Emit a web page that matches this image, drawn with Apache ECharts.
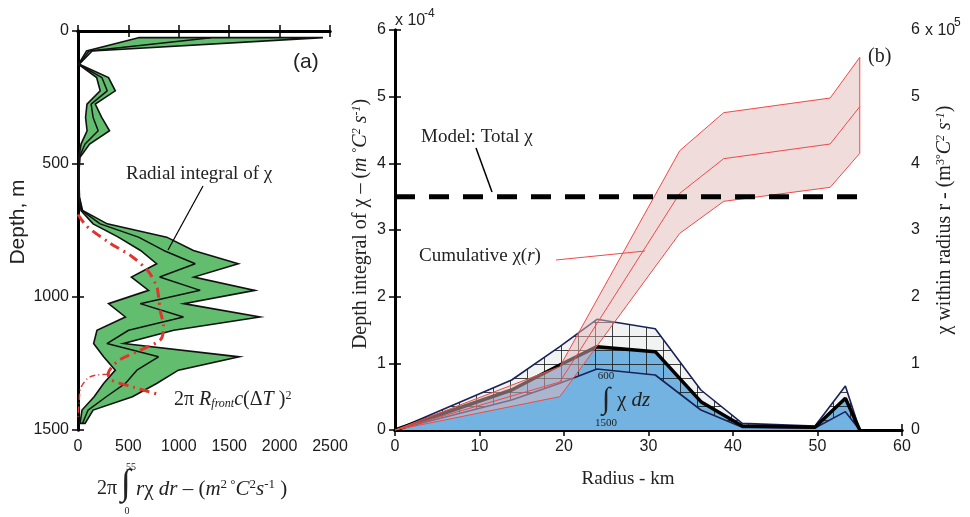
<!DOCTYPE html>
<html>
<head>
<meta charset="utf-8">
<script src="https://cdn.jsdelivr.net/npm/echarts@6/dist/echarts.min.js"></script>
<style>
html, body { margin: 0; padding: 0; background: #fff; }
#chart { width: 970px; height: 517px; }
</style>
</head>
<body>
<div id="chart"></div>
<script>
// ---- panel (a): radial integral of chi vs depth ----
var depthM = [25, 75, 125, 175, 225, 275, 325, 375, 425, 475, 525, 575, 625, 675, 725,
  775, 825, 875, 925, 975, 1025, 1075, 1125, 1175, 1225, 1275, 1325, 1375, 1425, 1475];
var radialLow = [600, 85, 5, 185, 220, 89, 75, 90, 30, 8, 5, 5, 8, 30, 150,
  400, 620, 780, 530, 700, 303, 470, 188, 155, 254, 370, 254, 160, 40, 20];
var radialMid = [1320, 110, 8, 237, 290, 130, 150, 200, 70, 12, 8, 8, 12, 40, 220,
  600, 850, 1163, 810, 1212, 617, 1046, 502, 287, 799, 584, 470, 280, 100, 45];
var radialHigh = [2430, 140, 12, 303, 370, 171, 235, 313, 115, 20, 10, 10, 15, 45, 290,
  880, 1145, 1590, 1150, 1755, 1050, 1805, 950, 452, 1600, 996, 780, 540, 150, 70];

// 2 pi R_front c (dT)^2
var frontDepth = [690, 735, 798, 848, 905, 960, 1000, 1050, 1110, 1160, 1200, 1240, 1290, 1312, 1340, 1368];
var frontValue = [0, 90, 320, 535, 700, 780, 800, 815, 848, 820, 617, 400, 300, 330, 560, 815];
var frontTailDepth = [1290, 1300, 1340, 1400, 1460];
var frontTailValue = [300, 120, 30, 10, 0];

// ---- panel (b): depth integral of chi vs radius ----
var radiusKm = [0, 13.8, 19.5, 23.9, 30.8, 36.2, 41.1, 49.7, 53.3, 55];
var chiDzLow = [0, 0.45, 0.7, 0.915, 0.825, 0.3, 0.04, 0.03, 0.275, 0];
var chiDzMid = [0, 0.6, 0.975, 1.25, 1.175, 0.425, 0.06, 0.04, 0.475, 0];
var chiDzHigh = [0, 0.75, 1.25, 1.66, 1.52, 0.6, 0.1, 0.06, 0.66, 0];

// cumulative chi within radius r (x 10^5)
var cumKm = [0, 19.5, 33.7, 38.9, 51.5, 55];
var cumLow = [0, 0.5, 2.95, 3.43, 3.64, 4.15];
var cumMid = [0, 0.72, 3.55, 4.07, 4.29, 4.85];
var cumHigh = [0, 0.95, 4.19, 4.76, 4.98, 5.59];

var modelTotal = 3.5;
var modelKm = [0, 55];

var sans = "'Liberation Sans', Arial, sans-serif";
var serif = "'Liberation Serif', 'Times New Roman', serif";

function pairs(xs, ys) {
  return xs.map(function(x, i) { return [x, ys[i]]; });
}
function band(xs, lo, hi, swap) {
  var a = xs.map(function(x, i) { return swap ? [lo[i], x] : [x, lo[i]]; });
  var b = xs.map(function(x, i) { return swap ? [hi[i], x] : [x, hi[i]]; }).reverse();
  return a.concat(b);
}
function polygonItem(points, style) {
  return function(params, api) {
    return {
      type: 'polygon',
      shape: { points: points.map(function(p) { return api.coord(p); }) },
      style: style
    };
  };
}

// grid hatch for the error band in (b)
var hatch = document.createElement('canvas');
hatch.width = 17; hatch.height = 14;
var hctx = hatch.getContext('2d');
hctx.strokeStyle = 'rgba(30,30,30,0.85)';
hctx.lineWidth = 1;
hctx.beginPath();
hctx.moveTo(0.5, 0); hctx.lineTo(0.5, 14);
hctx.moveTo(0, 0.5); hctx.lineTo(17, 0.5);
hctx.stroke();

function rich(size) {
  return {
    n: { fontFamily: serif, fontSize: size, fill: '#222' },
    i: { fontFamily: serif, fontSize: size, fontStyle: 'italic', fill: '#222' },
    sup: { fontFamily: serif, fontSize: Math.round(size * 0.6), fill: '#222', verticalAlign: 'top' },
    isup: { fontFamily: serif, fontSize: Math.round(size * 0.6), fontStyle: 'italic', fill: '#222', verticalAlign: 'top' },
    sub: { fontFamily: serif, fontSize: Math.round(size * 0.6), fontStyle: 'italic', fill: '#222', verticalAlign: 'bottom' }
  };
}
function txt(x, y, text, opt) {
  opt = opt || {};
  return {
    type: 'text', x: x, y: y, rotation: opt.rotation || 0, z: 100,
    style: {
      text: text, fill: '#222',
      font: opt.font || ('19px ' + serif),
      align: opt.align || 'left', verticalAlign: opt.va || 'middle',
      rich: opt.rich
    }
  };
}
function seg(x1, y1, x2, y2, color, w) {
  return { type: 'line', z: 100, shape: { x1: x1, y1: y1, x2: x2, y2: y2 }, style: { stroke: color || '#000', lineWidth: w || 1.2 } };
}

var tickStyle = { inside: true, length: 6, lineStyle: { color: '#000', width: 1.5 } };
var lineAxis = { show: true, lineStyle: { color: '#000', width: 3 } };
var labelStyle = {
  color: '#1a1a1a', fontSize: 16, fontFamily: sans, margin: 9,
  formatter: function(v) { return String(v); }
};

function axis(gridIndex, pos, min, max, interval, showLabel, inverse) {
  return {
    type: 'value', gridIndex: gridIndex, position: pos, min: min, max: max, interval: interval,
    inverse: !!inverse, axisLine: lineAxis, axisTick: tickStyle, splitLine: { show: false },
    axisLabel: showLabel ? labelStyle : { show: false }
  };
}

var option = {
  animation: false,
  backgroundColor: '#fff',
  grid: [
    { left: 78, top: 31, width: 252, height: 399 },
    { left: 395, top: 30, width: 507, height: 400 }
  ],
  xAxis: [
    axis(0, 'bottom', 0, 2500, 500, true),
    axis(0, 'top', 0, 2500, 500, false),
    axis(1, 'bottom', 0, 60, 10, true),
    axis(1, 'top', 0, 60, 10, false)
  ],
  yAxis: [
    axis(0, 'left', 0, 1500, 500, true, true),
    axis(0, 'right', 0, 1500, 500, false, true),
    axis(1, 'left', 0, 6, 1, true),
    axis(1, 'right', 0, 6, 1, true)
  ],
  series: [
    // (a)
    {
      type: 'custom', xAxisIndex: 0, yAxisIndex: 0, data: [[0, 0]], silent: true, z: 2,
      renderItem: polygonItem(band(depthM, radialLow, radialHigh, true),
        { fill: '#63bd6e', stroke: '#111', lineWidth: 1.6, lineJoin: 'miter' })
    },
    {
      type: 'line', xAxisIndex: 0, yAxisIndex: 0, data: pairs(radialMid, depthM),
      symbol: 'none', lineStyle: { color: '#111', width: 1.5 }, z: 3
    },
    {
      type: 'line', xAxisIndex: 0, yAxisIndex: 0, data: pairs(frontValue, frontDepth), smooth: 0.3,
      symbol: 'none', lineStyle: { color: '#e0352f', width: 3, type: [10, 5, 2, 5] }, z: 4
    },
    {
      type: 'line', xAxisIndex: 0, yAxisIndex: 0, data: pairs(frontTailValue, frontTailDepth), smooth: 0.3,
      symbol: 'none', lineStyle: { color: '#e0352f', width: 1.5, type: [6, 3, 1, 3] }, z: 4
    },
    // (b) filled areas
    {
      type: 'line', xAxisIndex: 2, yAxisIndex: 2, data: pairs(radiusKm, chiDzHigh), symbol: 'none',
      lineStyle: { width: 0 }, areaStyle: { color: '#f1f3f3', opacity: 1 }, z: 1
    },
    {
      type: 'line', xAxisIndex: 2, yAxisIndex: 2, data: pairs(radiusKm, chiDzMid), symbol: 'none',
      lineStyle: { width: 0 }, areaStyle: { color: '#72b3e2', opacity: 1 }, z: 2
    },
    {
      type: 'custom', xAxisIndex: 2, yAxisIndex: 2, data: [[0, 0]], silent: true, z: 3,
      renderItem: polygonItem(band(radiusKm, chiDzLow, chiDzHigh, false),
        { fill: { image: hatch, repeat: 'repeat' } })
    },
    {
      type: 'line', xAxisIndex: 2, yAxisIndex: 2, data: pairs(radiusKm, chiDzHigh), symbol: 'none',
      lineStyle: { color: '#1b2257', width: 1.6 }, z: 4
    },
    {
      type: 'line', xAxisIndex: 2, yAxisIndex: 2, data: pairs(radiusKm, chiDzLow), symbol: 'none',
      lineStyle: { color: '#1b2257', width: 1.6 }, z: 4
    },
    {
      type: 'line', xAxisIndex: 2, yAxisIndex: 2, data: pairs(radiusKm, chiDzMid), symbol: 'none',
      lineStyle: { color: '#000', width: 3.5 }, z: 5
    },
    // cumulative chi(r)
    {
      type: 'custom', xAxisIndex: 2, yAxisIndex: 3, data: [[0, 0]], silent: true, z: 6,
      renderItem: polygonItem(band(cumKm, cumLow, cumHigh, false),
        { fill: 'rgba(228,185,185,0.5)', stroke: '#ee4a4a', lineWidth: 1 })
    },
    {
      type: 'line', xAxisIndex: 2, yAxisIndex: 3, data: pairs(cumKm, cumMid), symbol: 'none',
      lineStyle: { color: '#ee4a4a', width: 1 }, z: 7
    },
    // model total chi
    {
      type: 'line', xAxisIndex: 2, yAxisIndex: 2, data: pairs(modelKm, [modelTotal, modelTotal]), symbol: 'none',
      lineStyle: { color: '#000', width: 5, type: [20, 14] }, z: 8
    }
  ],
  graphic: [
    // panel (a) texts
    txt(293, 62, '(a)', { font: '21px ' + sans }),
    txt(126, 174, 'Radial integral of χ', { font: '19px ' + serif }),
    seg(203, 186, 168, 250, '#000', 1.2),
    txt(174, 400, '{n|2π }{i|R}{sub|front}{i|c}{n|(Δ}{i|T}{n| )}{sup|2}', { rich: rich(20) }),
    txt(18, 222, 'Depth, m', { font: '21px ' + sans, align: 'center', rotation: Math.PI / 2 }),
    txt(97, 489, '{n|2π}', { rich: rich(20) }),
    txt(126, 485, '∫', { font: '36px ' + serif, align: 'center' }),
    txt(131, 467, '55', { font: '10px ' + serif, align: 'center' }),
    txt(127, 511, '0', { font: '10px ' + serif, align: 'center' }),
    txt(136, 489, '{i|r}{n|χ }{i|dr}{n| – (}{i|m}{sup|2 }{sup|°}{i|C}{sup|2}{i|s}{sup|-1}{n| )}', { rich: rich(21) }),
    // panel (b) texts
    txt(395, 21, 'x 10', { font: '16px ' + sans }),
    txt(424, 14, '-4', { font: '12px ' + sans }),
    txt(925, 31, 'x 10', { font: '16px ' + sans }),
    txt(954, 23, '5', { font: '12px ' + sans }),
    txt(868, 57, '(b)', { font: '20px ' + serif }),
    txt(421, 137, 'Model: Total χ', { font: '19px ' + serif }),
    seg(476, 148, 492, 192, '#000', 1.5),
    txt(419, 256, '{n|Cumulative χ(}{i|r}{n|)}', { rich: rich(19) }),
    seg(556, 260, 645, 251, '#ee4a4a', 1),
    txt(606, 376, '600', { font: '11px ' + serif, align: 'center' }),
    txt(606, 400, '∫', { font: '30px ' + serif, align: 'center' }),
    txt(606, 423, '1500', { font: '11px ' + serif, align: 'center' }),
    txt(617, 400, '{n|χ }{i|dz}', { rich: rich(21) }),
    txt(628, 479, 'Radius - km', { font: '19px ' + serif, align: 'center' }),
    txt(361, 224, '{n|Depth integral of χ – (}{i|m }{sup|°}{i|C}{isup|2}{i| s}{isup|-1}{n|)}',
      { rich: rich(20), align: 'center', rotation: Math.PI / 2 }),
    txt(945, 220, '{n|χ within radius r - (m}{sup|3}{sup|°}{i|C}{isup|2}{i| s}{isup|-1}{n|)}',
      { rich: rich(20), align: 'center', rotation: Math.PI / 2 })
  ]
};

var chart = echarts.init(document.getElementById('chart'));
chart.setOption(option);
</script>
</body>
</html>
